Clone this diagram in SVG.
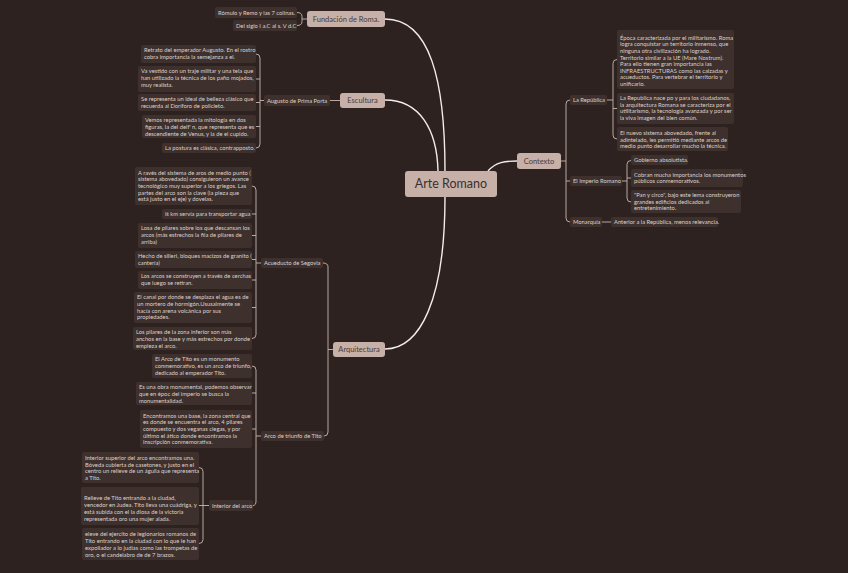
<svg xmlns="http://www.w3.org/2000/svg" width="848" height="573" viewBox="0 0 848 573">
<style>
.bg{fill:#2d2220}
.c{fill:#3e302d}
.ct{font-family:Lato,"Open Sans",sans-serif;font-size:5.8px;fill:#ddd1cb}
.m{fill:#c7b0a7}
.mt{font-family:Lato,"Open Sans",sans-serif;font-size:7.5px;fill:#4a3b37;text-anchor:middle}
.cur{fill:none;stroke:#f3ece8;stroke-width:1.4}
.br{fill:none;stroke:#c9b7af;stroke-width:0.9}
</style>
<rect class="bg" x="0" y="0" width="848" height="573"/>
<g id="connectors">
<path class="cur" d="M385,19 C430,19 445,80 445,171"/>
<path class="cur" d="M385,100 C420,100 437,130 438,171"/>
<path class="cur" d="M445,197 C445,300 420,349 385,349"/>
<path class="cur" d="M488,171 C496,162 505,161 517,161"/>
<path class="br" d="M297,12.5 Q302,12.5 302,16.5 V21.5 Q302,25.5 297,25.5 M302,19 H307"/>
<path class="br" d="M330,100.5 H340"/>
<path class="br" d="M256,54 Q260,54 260,58 V144 Q260,148 256,148 M256,79 H260 M256,102.5 H260 M256,126.5 H260 M260,100.5 H264"/>
<path class="br" d="M323,263 Q328,263 328,267 V432 Q328,436 324,436 M328,349.5 H333"/>
<path class="br" d="M252,186 Q256,186 256,190 V334.5 Q256,338.5 252,338.5 M252,214 H256 M252,235.5 H256 M252,259.5 H256 M252,280 H256 M252,307.5 H256 M256,263 H261"/>
<path class="br" d="M252,366 Q256,366 256,370 V501 Q256,505.5 253,505.5 M252,393 H256 M252,429 H256 M256,436 H261"/>
<path class="br" d="M199,467.5 Q203,467.5 203,471.5 V539.5 Q203,543.5 199,543.5 M199,505.5 H209"/>
<path class="br" d="M561,161 H566 M570,100 Q566,100 566,104 V218 Q566,222 570,222 M566,181 H570"/>
<path class="br" d="M607,100 H613 M617,59.5 Q613,59.5 613,63.5 V135 Q613,139 617,139 M613,108.5 H617"/>
<path class="br" d="M622,181 H627 M631,160.5 Q627,160.5 627,164.5 V198 Q627,202 631,202 M627,178 H631"/>
<path class="br" d="M602,222 H611"/>
</g>
<g id="arte-romano">
<rect class="m" x="405" y="171" width="92" height="26" rx="3"/>
<text x="451" y="188" style="font-family:Lato,'Open Sans',sans-serif;font-size:12.5px;fill:#3b2f2c;text-anchor:middle">Arte Romano</text>
</g>
<g id="fundacion">
<rect class="m" x="307" y="11" width="78" height="16" rx="3"/>
<text class="mt" x="346" y="21.5">Fundación de Roma.</text>
</g>
<g id="f1"><rect class="c" x="215" y="7" width="82" height="11" rx="2"/><text class="ct" x="218" y="14.5">Rómulo y Remo y las 7 colinas.</text></g>
<g id="f2"><rect class="c" x="233" y="20" width="64" height="11" rx="2"/><text class="ct" x="236" y="27.5">Del siglo I a.C al s. V d.C</text></g>
<g id="escultura">
<rect class="m" x="340" y="93" width="45" height="15" rx="3"/>
<text class="mt" x="362.5" y="103">Escultura</text>
</g>
<g id="augusto"><rect class="c" x="264" y="95" width="66" height="11" rx="2"/><text class="ct" x="267" y="102.5">Augusto de Prima Porta</text></g>
<g id="e1"><rect class="c" x="141" y="45" width="115" height="18" rx="2"/><text class="ct" x="144" y="52.3"><tspan x="144">Retrato del emperador Augusto. En el rostro</tspan><tspan x="144" dy="6.6">cobra importancia la semejanza a el.</tspan></text></g>
<g id="e2"><rect class="c" x="138" y="66" width="118" height="26" rx="2"/><text class="ct" x="141" y="73.3"><tspan x="141">Va vestido con un traje militar y una tela que</tspan><tspan x="141" dy="6.6">han utilizado la técnica de los paño mojados,</tspan><tspan x="141" dy="6.6">muy realista.</tspan></text></g>
<g id="e3"><rect class="c" x="138" y="94" width="118" height="17" rx="2"/><text class="ct" x="141" y="101.3"><tspan x="141">Se representa un ideal de belleza clásico que</tspan><tspan x="141" dy="6.6">recuerda al Doríforo de policleto.</tspan></text></g>
<g id="e4"><rect class="c" x="142" y="115" width="114" height="23" rx="2"/><text class="ct" x="145" y="122.3"><tspan x="145">Vemos representada la mitología en dos</tspan><tspan x="145" dy="6.6">figuras, la del delf' n, que representa que es</tspan><tspan x="145" dy="6.6">descendiente de Venus, y la de el cupido.</tspan></text></g>
<g id="e5"><rect class="c" x="162" y="143" width="94" height="10" rx="2"/><text class="ct" x="165" y="150.2">La postura es clásica, contrapposto.</text></g>
<g id="arquitectura">
<rect class="m" x="333" y="342" width="52" height="15" rx="3"/>
<text class="mt" x="359" y="352">Arquitectura</text>
</g>
<g id="acueducto"><rect class="c" x="261" y="258" width="62" height="10" rx="2"/><text class="ct" x="264" y="265.2">Acueducto de Segovia</text></g>
<g id="a1"><rect class="c" x="135" y="167" width="117" height="38" rx="2"/><text class="ct" x="138" y="174.8"><tspan x="138">A ravés del sistema de aros de medio punto (</tspan><tspan x="138" dy="6.6">sistema abovedado) consiguieron un avance</tspan><tspan x="138" dy="6.6">tecnológico muy superior a los griegos. Las</tspan><tspan x="138" dy="6.6">partes del arco son la clave (la pieza que</tspan><tspan x="138" dy="6.6">está justo en el eje) y dovelas.</tspan></text></g>
<g id="a2"><rect class="c" x="162" y="209" width="90" height="10" rx="2"/><text class="ct" x="165" y="216.2">lś km servía para transportar agua</text></g>
<g id="a3"><rect class="c" x="138" y="223" width="114" height="25" rx="2"/><text class="ct" x="141" y="230.3"><tspan x="141">Losa de pilares sobre los que descansan los</tspan><tspan x="141" dy="6.6">arcos (más estrechos la fila de pilares de</tspan><tspan x="141" dy="6.6">arriba)</tspan></text></g>
<g id="a4"><rect class="c" x="135" y="251" width="117" height="17" rx="2"/><text class="ct" x="138" y="258.3"><tspan x="138">Hecho de silleri, bloques macizos de granito (</tspan><tspan x="138" dy="6.6">cantería)</tspan></text></g>
<g id="a5"><rect class="c" x="138" y="271" width="114" height="18" rx="2"/><text class="ct" x="141" y="278.3"><tspan x="141">Los arcos se construyen a través de cerchas</tspan><tspan x="141" dy="6.6">que luego se retiran.</tspan></text></g>
<g id="a6"><rect class="c" x="134" y="292" width="118" height="31" rx="2"/><text class="ct" x="137" y="299.3"><tspan x="137">El canal por donde se desplaza el agua es de</tspan><tspan x="137" dy="6.6">un mortero de hormigón.Ususalmente se</tspan><tspan x="137" dy="6.6">hacía con arena volcánica por sus</tspan><tspan x="137" dy="6.6">propiedades.</tspan></text></g>
<g id="a7"><rect class="c" x="133" y="327" width="119" height="23" rx="2"/><text class="ct" x="136" y="334.3"><tspan x="136">Los pilares de la zona inferior son más</tspan><tspan x="136" dy="6.6">anchos en la base y más estrechos por donde</tspan><tspan x="136" dy="6.6">empieza el arco.</tspan></text></g>
<g id="arco"><rect class="c" x="261" y="431" width="63" height="10" rx="2"/><text class="ct" x="264" y="438.2">Arco de triunfo de Tito</text></g>
<g id="t1"><rect class="c" x="152" y="354" width="100" height="24" rx="2"/><text class="ct" x="155" y="361.3"><tspan x="155">El Arco de Tito es un monumento</tspan><tspan x="155" dy="6.6">conmemorativo, es un arco de triunfo,</tspan><tspan x="155" dy="6.6">dedicado al emperador Tito.</tspan></text></g>
<g id="t2"><rect class="c" x="136" y="382" width="116" height="23" rx="2"/><text class="ct" x="139" y="389.3"><tspan x="139">Es una obra monumental, podemos observar</tspan><tspan x="139" dy="6.6">que en époc del imperio se busca la</tspan><tspan x="139" dy="6.6">monumentalidad.</tspan></text></g>
<g id="t3"><rect class="c" x="140" y="410" width="112" height="38" rx="2"/><text class="ct" x="143" y="417.8"><tspan x="143">Encontramos una base, la zona central que</tspan><tspan x="143" dy="6.6">es donde se encuentra el arco, 4 pilares</tspan><tspan x="143" dy="6.6">compuesto y dos veganas ciegas, y por</tspan><tspan x="143" dy="6.6">último el ático donde encontramos la</tspan><tspan x="143" dy="6.6">inscripción conmemorativa.</tspan></text></g>
<g id="interior"><rect class="c" x="209" y="500" width="44" height="11" rx="2"/><text class="ct" x="212" y="507.5">Interior del arco</text></g>
<g id="i1"><rect class="c" x="82" y="452" width="117" height="31" rx="2"/><text class="ct" x="85" y="460.2"><tspan x="85">Interior superior del arco encontramos una.</tspan><tspan x="85" dy="6.6">Bóveda cubierta de casetones, y justo en el</tspan><tspan x="85" dy="6.6">centro un relieve de un águila que representa</tspan><tspan x="85" dy="6.6">a Tito.</tspan></text></g>
<g id="i2"><rect class="c" x="81" y="487" width="118" height="38" rx="2"/><text class="ct" x="84" y="500.2"><tspan x="84">Relieve de Tito entrando a la ciudad,</tspan><tspan x="84" dy="6.8">vencedor en Judea. Tito lleva una cuádriga, y</tspan><tspan x="84" dy="6.8">está subida con el la diosa de la victoria</tspan><tspan x="84" dy="6.8">representada oro una mujer alada.</tspan></text></g>
<g id="i3"><rect class="c" x="82" y="528" width="117" height="32" rx="2"/><text class="ct" x="85" y="536.2"><tspan x="85">eleve del ejercito de legionarios romanos de</tspan><tspan x="85" dy="6.8">Tito entrando en la ciudad con lo que le han</tspan><tspan x="85" dy="6.8">expoliador a lo judías como las trompetas de</tspan><tspan x="85" dy="6.8">oro, o el candelabro de de 7 brazos.</tspan></text></g>
<g id="contexto">
<rect class="m" x="517" y="153" width="44" height="16" rx="3"/>
<text class="mt" x="539" y="163.5">Contexto</text>
</g>
<g id="republica"><rect class="c" x="570" y="95" width="37" height="10" rx="2"/><text class="ct" x="573" y="102.2">La República</text></g>
<g id="r1"><rect class="c" x="617" y="30" width="117" height="59" rx="2"/><text class="ct" x="620" y="39.7"><tspan x="620">Época caracterizada por el militarismo. Roma</tspan><tspan x="620" dy="6.6">logra conquistar un territorio inmenso, que</tspan><tspan x="620" dy="6.6">ninguna otra civilización ha logrado.</tspan><tspan x="620" dy="6.6">Territorio similar a la UE (Mare Nostrum).</tspan><tspan x="620" dy="6.6">Para ello tienen gran importancia las</tspan><tspan x="620" dy="6.6">INFRAESTRUCTURAS como las calzadas y</tspan><tspan x="620" dy="6.6">acueductos. Para vertebrar el territorio y</tspan><tspan x="620" dy="6.6">unificarlo.</tspan></text></g>
<g id="r2"><rect class="c" x="617" y="93" width="117" height="31" rx="2"/><text class="ct" x="620" y="100.2"><tspan x="620">La Republica nace po y para los ciudadanos,</tspan><tspan x="620" dy="6.6">la arquitectura Romana se caracteriza por el</tspan><tspan x="620" dy="6.6">utilitarismo, la tecnología avanzada y por ser</tspan><tspan x="620" dy="6.6">la viva imagen del bien común.</tspan></text></g>
<g id="r3"><rect class="c" x="617" y="127" width="111" height="24" rx="2"/><text class="ct" x="620" y="135.2"><tspan x="620">El nuevo sistema abovedado, frente al</tspan><tspan x="620" dy="6.6">adintelado, les permitió mediante arcos de</tspan><tspan x="620" dy="6.6">medio punto desarrollar mucho la técnica.</tspan></text></g>
<g id="imperio"><rect class="c" x="570" y="176" width="52" height="10" rx="2"/><text class="ct" x="573" y="183.2">El Imperio Romano</text></g>
<g id="m1"><rect class="c" x="631" y="155" width="57" height="10" rx="2"/><text class="ct" x="634" y="162.2">Gobierno absolutista.</text></g>
<g id="m2"><rect class="c" x="631" y="169" width="112" height="18" rx="2"/><text class="ct" x="634" y="176.6"><tspan x="634">Cobran mucha importancia los monumentos</tspan><tspan x="634" dy="6.6">públicos conmemorativos.</tspan></text></g>
<g id="m3"><rect class="c" x="631" y="190" width="110" height="23" rx="2"/><text class="ct" x="634" y="197.2"><tspan x="634">"Pan y circo", bajo este lema construyeron</tspan><tspan x="634" dy="6.6">grandes edificios dedicados al</tspan><tspan x="634" dy="6.6">entretenimiento.</tspan></text></g>
<g id="monarquia"><rect class="c" x="570" y="217" width="32" height="10" rx="2"/><text class="ct" x="573" y="224.2">Monarquía</text></g>
<g id="mo1"><rect class="c" x="611" y="217" width="107" height="10" rx="2"/><text class="ct" x="614" y="224.2">Anterior a la República, menos relevancia.</text></g>
</svg>
